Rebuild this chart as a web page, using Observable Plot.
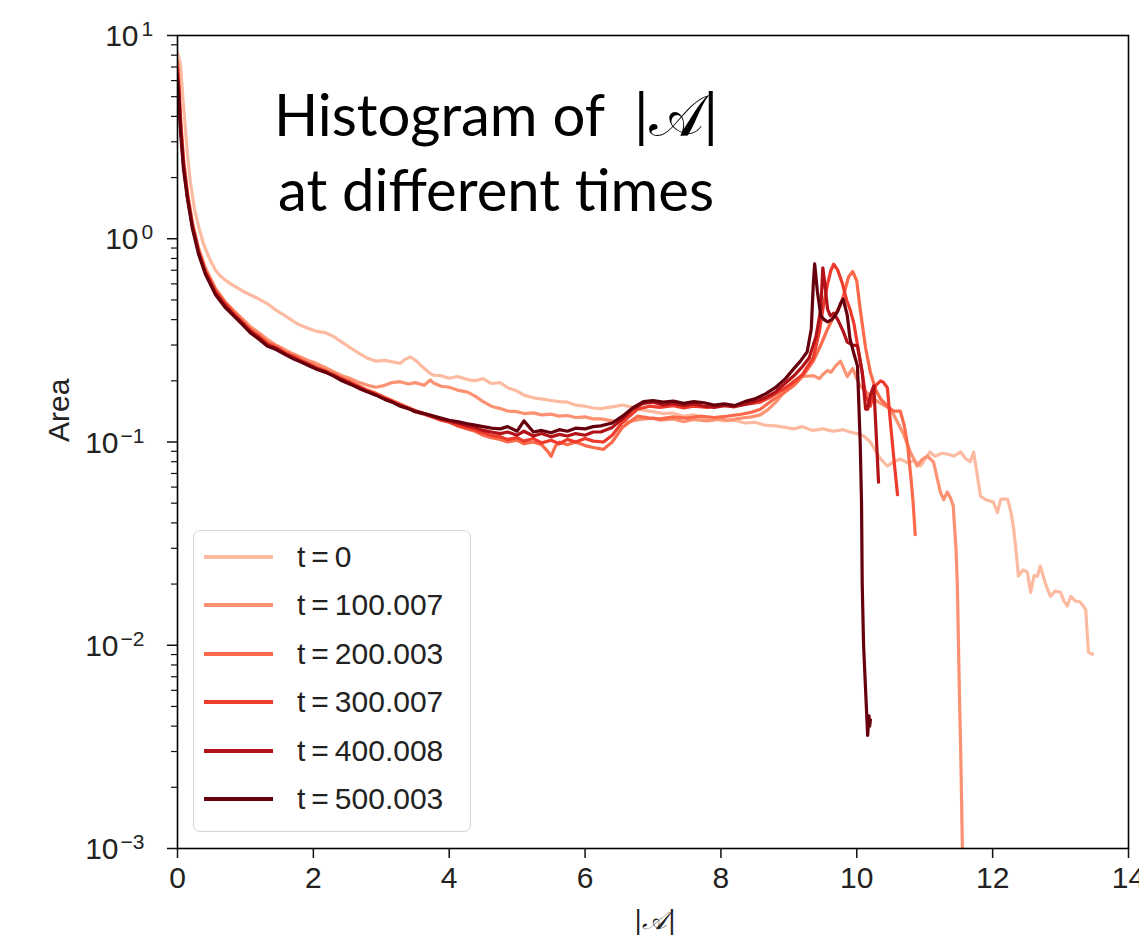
<!DOCTYPE html>
<html><head><meta charset="utf-8">
<script src="https://cdn.jsdelivr.net/npm/d3@7"></script>
<script src="https://cdn.jsdelivr.net/npm/@observablehq/plot@0.6"></script>
<style>
body{margin:0;background:#fff;}
#wrap{position:relative;width:1139px;height:942px;overflow:hidden;background:#fff;}
#legend{position:absolute;left:193px;top:530px;width:278px;height:302px;border:1.5px solid #d4d4d4;border-radius:7px;background:rgba(255,255,255,0.85);box-sizing:border-box;}
.row{position:absolute;left:0;height:0;}
.swatch{position:absolute;left:10px;width:69px;height:4px;top:-2px;}
.lab{position:absolute;left:103px;top:-19px;font:30px "Liberation Sans",Arial,sans-serif;color:#222;white-space:nowrap;line-height:38px;}
</style></head><body><div id="wrap"></div>
<script>
// ---- data ----
const seriesLabels = ["t = 0", "t = 100.007", "t = 200.003", "t = 300.007", "t = 400.008", "t = 500.003"];
const seriesColors = ["#fcbba1", "#fc9272", "#fb6a4a", "#ef3b2c", "#b31218", "#67000d"];

const t0 = [[0,8.2],[0.015,7.9],[0.044,7.2],[0.088,4.5],[0.147,2.6],[0.19,1.9],[0.25,1.4],[0.31,1.15],[0.38,0.95],[0.47,0.8],[0.56,0.7],[0.63,0.655],[0.72,0.62],[0.82,0.59],[0.95,0.555],[1.07,0.53],[1.2,0.505],[1.32,0.48],[1.45,0.445],[1.55,0.425],[1.62,0.41],[1.72,0.39],[1.81,0.375],[1.95,0.36],[2.05,0.35],[2.18,0.345],[2.3,0.33],[2.42,0.31],[2.55,0.29],[2.68,0.272],[2.8,0.258],[2.92,0.25],[3.05,0.252],[3.16,0.248],[3.28,0.244],[3.35,0.255],[3.43,0.262],[3.52,0.25],[3.6,0.235],[3.7,0.22],[3.77,0.213],[3.88,0.212],[4.0,0.206],[4.12,0.21],[4.27,0.203],[4.38,0.2],[4.5,0.205],[4.62,0.194],[4.75,0.196],[4.86,0.185],[5.0,0.178],[5.1,0.17],[5.24,0.165],[5.36,0.163],[5.5,0.16],[5.62,0.158],[5.74,0.157],[5.86,0.152],[6.0,0.15],[6.12,0.147],[6.23,0.146],[6.4,0.149],[6.55,0.152],[6.7,0.148],[6.86,0.143],[7.0,0.141],[7.15,0.138],[7.3,0.139],[7.45,0.134],[7.6,0.136],[7.75,0.131],[7.9,0.13],[8.05,0.127],[8.2,0.128],[8.35,0.124],[8.5,0.125],[8.65,0.121],[8.8,0.12],[8.95,0.118],[9.07,0.116],[9.2,0.119],[9.35,0.114],[9.5,0.116],[9.65,0.113],[9.8,0.115],[9.9,0.112],[10.0,0.11],[10.1,0.107],[10.2,0.1],[10.28,0.09],[10.35,0.0825],[10.45,0.0762],[10.55,0.08],[10.64,0.0825],[10.75,0.079],[10.85,0.081],[10.94,0.0762],[11.0,0.082],[11.08,0.0893],[11.15,0.085],[11.25,0.088],[11.33,0.0873],[11.43,0.0853],[11.53,0.0893],[11.6,0.083],[11.67,0.08],[11.72,0.0893],[11.77,0.07],[11.82,0.0542],[11.9,0.052],[12.01,0.0506],[12.07,0.045],[12.12,0.0524],[12.22,0.0524],[12.27,0.045],[12.31,0.0373],[12.35,0.028],[12.38,0.0219],[12.45,0.0235],[12.51,0.0229],[12.56,0.0182],[12.61,0.022],[12.66,0.0219],[12.7,0.0245],[12.78,0.02],[12.85,0.0174],[12.92,0.0185],[13.0,0.0182],[13.05,0.0165],[13.1,0.0156],[13.15,0.0174],[13.22,0.0165],[13.29,0.0163],[13.37,0.015],[13.41,0.00924],[13.47,0.00903]];

const t100 = [[0,7.5],[0.015,6.3],[0.044,4.0],[0.088,2.5],[0.147,1.7],[0.22,1.2],[0.31,0.9],[0.41,0.72],[0.56,0.57],[0.7,0.49],[0.82,0.445],[0.95,0.405],[1.07,0.37],[1.2,0.345],[1.32,0.32],[1.45,0.3],[1.6,0.282],[1.72,0.27],[1.81,0.262],[1.95,0.25],[2.05,0.243],[2.18,0.232],[2.3,0.222],[2.42,0.212],[2.55,0.205],[2.68,0.196],[2.8,0.19],[2.92,0.186],[3.05,0.19],[3.16,0.196],[3.28,0.198],[3.4,0.193],[3.5,0.196],[3.63,0.19],[3.72,0.202],[3.77,0.195],[3.88,0.188],[4.0,0.186],[4.12,0.18],[4.27,0.176],[4.38,0.168],[4.5,0.158],[4.62,0.15],[4.75,0.146],[4.86,0.142],[5.0,0.141],[5.1,0.138],[5.24,0.139],[5.36,0.136],[5.5,0.137],[5.62,0.134],[5.74,0.135],[5.86,0.132],[6.0,0.133],[6.12,0.13],[6.23,0.13],[6.4,0.127],[6.62,0.125],[6.8,0.129],[7.0,0.131],[7.11,0.128],[7.3,0.13],[7.45,0.126],[7.6,0.129],[7.8,0.127],[8.0,0.13],[8.1,0.128],[8.3,0.131],[8.45,0.133],[8.58,0.136],[8.7,0.145],[8.83,0.16],[8.95,0.18],[9.07,0.2],[9.2,0.21],[9.36,0.212],[9.45,0.205],[9.5,0.215],[9.57,0.225],[9.62,0.22],[9.68,0.235],[9.76,0.25],[9.82,0.225],[9.86,0.21],[9.94,0.23],[10.0,0.205],[10.05,0.189],[10.15,0.175],[10.25,0.163],[10.35,0.155],[10.5,0.145],[10.6,0.125],[10.69,0.109],[10.79,0.089],[10.89,0.0762],[10.96,0.082],[11.04,0.0853],[11.13,0.0797],[11.19,0.065],[11.23,0.0567],[11.28,0.052],[11.33,0.0567],[11.38,0.053],[11.42,0.0484],[11.46,0.03],[11.48,0.02],[11.51,0.006],[11.53,0.003],[11.56,0.0008]];

const t200 = [[0,7.3],[0.015,6.0],[0.044,3.8],[0.088,2.4],[0.147,1.65],[0.22,1.18],[0.31,0.88],[0.41,0.7],[0.56,0.56],[0.7,0.485],[0.82,0.44],[0.95,0.395],[1.07,0.36],[1.2,0.335],[1.32,0.31],[1.45,0.295],[1.6,0.276],[1.72,0.265],[1.81,0.255],[1.95,0.243],[2.05,0.234],[2.18,0.225],[2.3,0.216],[2.42,0.206],[2.55,0.198],[2.68,0.188],[2.8,0.18],[2.92,0.174],[3.05,0.166],[3.16,0.16],[3.28,0.154],[3.4,0.148],[3.5,0.143],[3.63,0.138],[3.77,0.134],[3.88,0.13],[4.0,0.126],[4.12,0.12],[4.27,0.116],[4.38,0.113],[4.5,0.108],[4.62,0.105],[4.75,0.103],[4.86,0.1],[5.0,0.102],[5.1,0.098],[5.24,0.1],[5.36,0.097],[5.45,0.09],[5.5,0.085],[5.56,0.095],[5.62,0.1],[5.74,0.097],[5.86,0.1],[6.0,0.096],[6.12,0.094],[6.27,0.092],[6.4,0.1],[6.55,0.118],[6.77,0.134],[6.95,0.131],[7.11,0.13],[7.3,0.133],[7.5,0.131],[7.7,0.134],[7.9,0.132],[8.1,0.134],[8.3,0.137],[8.45,0.14],[8.58,0.145],[8.75,0.16],[8.9,0.172],[9.07,0.189],[9.2,0.21],[9.36,0.25],[9.47,0.3],[9.57,0.36],[9.67,0.42],[9.76,0.47],[9.82,0.55],[9.88,0.65],[9.94,0.69],[10.0,0.62],[10.05,0.45],[10.13,0.29],[10.2,0.22],[10.28,0.18],[10.35,0.163],[10.45,0.15],[10.54,0.142],[10.64,0.142],[10.7,0.12],[10.75,0.0956],[10.8,0.065],[10.83,0.05],[10.86,0.035]];

const t300 = [[0,7.0],[0.015,5.8],[0.044,3.7],[0.088,2.35],[0.147,1.62],[0.22,1.16],[0.31,0.87],[0.41,0.69],[0.56,0.55],[0.7,0.48],[0.82,0.43],[0.95,0.39],[1.07,0.355],[1.2,0.33],[1.32,0.305],[1.45,0.29],[1.6,0.272],[1.72,0.262],[1.81,0.252],[1.95,0.24],[2.05,0.231],[2.18,0.222],[2.3,0.213],[2.42,0.204],[2.55,0.195],[2.68,0.186],[2.8,0.178],[2.92,0.172],[3.05,0.164],[3.16,0.158],[3.28,0.152],[3.4,0.146],[3.5,0.141],[3.63,0.137],[3.77,0.132],[3.88,0.128],[4.0,0.125],[4.12,0.121],[4.27,0.117],[4.38,0.115],[4.5,0.111],[4.62,0.108],[4.75,0.106],[4.86,0.103],[5.0,0.105],[5.1,0.101],[5.24,0.104],[5.36,0.099],[5.5,0.102],[5.62,0.098],[5.74,0.103],[5.86,0.1],[6.0,0.104],[6.12,0.101],[6.27,0.1],[6.4,0.108],[6.55,0.125],[6.77,0.145],[6.95,0.15],[7.1,0.148],[7.3,0.151],[7.45,0.147],[7.6,0.15],[7.8,0.148],[8.0,0.152],[8.2,0.151],[8.4,0.154],[8.58,0.157],[8.75,0.168],[8.9,0.18],[9.07,0.197],[9.2,0.215],[9.36,0.26],[9.45,0.35],[9.5,0.45],[9.57,0.6],[9.62,0.7],[9.66,0.75],[9.72,0.7],[9.79,0.6],[9.85,0.5],[9.9,0.45],[9.96,0.38],[10.01,0.3],[10.08,0.22],[10.13,0.17],[10.2,0.15],[10.28,0.19],[10.35,0.2],[10.39,0.197],[10.45,0.185],[10.5,0.12],[10.55,0.08],[10.6,0.055]];

const t400 = [[0,6.5],[0.015,5.6],[0.044,3.6],[0.088,2.3],[0.147,1.6],[0.22,1.15],[0.31,0.86],[0.41,0.68],[0.56,0.54],[0.7,0.47],[0.82,0.425],[0.95,0.385],[1.07,0.35],[1.2,0.325],[1.32,0.3],[1.45,0.29],[1.6,0.27],[1.72,0.258],[1.81,0.25],[1.95,0.238],[2.05,0.229],[2.18,0.222],[2.3,0.212],[2.42,0.203],[2.55,0.193],[2.68,0.185],[2.8,0.177],[2.92,0.171],[3.05,0.163],[3.16,0.158],[3.28,0.151],[3.4,0.146],[3.5,0.142],[3.63,0.138],[3.77,0.133],[3.88,0.13],[4.0,0.127],[4.12,0.124],[4.27,0.12],[4.38,0.118],[4.5,0.114],[4.62,0.112],[4.75,0.11],[4.86,0.112],[5.0,0.108],[5.1,0.113],[5.24,0.107],[5.36,0.11],[5.5,0.106],[5.62,0.109],[5.74,0.107],[5.86,0.11],[6.0,0.108],[6.12,0.112],[6.23,0.112],[6.4,0.118],[6.55,0.13],[6.7,0.145],[6.86,0.155],[7.0,0.157],[7.15,0.152],[7.3,0.155],[7.45,0.151],[7.6,0.154],[7.75,0.15],[7.9,0.148],[8.05,0.151],[8.2,0.149],[8.35,0.153],[8.5,0.158],[8.65,0.165],[8.8,0.176],[8.95,0.195],[9.07,0.211],[9.2,0.235],[9.3,0.26],[9.4,0.33],[9.47,0.45],[9.5,0.72],[9.53,0.6],[9.57,0.45],[9.61,0.418],[9.66,0.43],[9.72,0.4],[9.8,0.35],[9.86,0.31],[9.94,0.3],[10.01,0.297],[10.08,0.22],[10.13,0.145],[10.16,0.145],[10.2,0.17],[10.25,0.189],[10.28,0.12],[10.32,0.0635]];

const t500 = [[0,6.0],[0.015,5.4],[0.044,3.4],[0.088,2.2],[0.147,1.57],[0.22,1.12],[0.31,0.84],[0.41,0.67],[0.56,0.53],[0.7,0.46],[0.82,0.42],[0.95,0.38],[1.07,0.345],[1.2,0.32],[1.32,0.297],[1.45,0.285],[1.6,0.268],[1.72,0.255],[1.81,0.248],[1.95,0.236],[2.05,0.228],[2.18,0.22],[2.3,0.211],[2.42,0.2],[2.55,0.192],[2.68,0.183],[2.8,0.176],[2.92,0.17],[3.05,0.162],[3.16,0.157],[3.28,0.15],[3.4,0.146],[3.5,0.141],[3.63,0.138],[3.77,0.134],[3.88,0.131],[4.0,0.128],[4.12,0.126],[4.27,0.123],[4.38,0.121],[4.5,0.119],[4.62,0.117],[4.75,0.116],[4.86,0.119],[5.0,0.113],[5.1,0.127],[5.24,0.112],[5.36,0.114],[5.5,0.111],[5.62,0.115],[5.74,0.113],[5.86,0.117],[6.0,0.116],[6.12,0.119],[6.23,0.12],[6.4,0.124],[6.55,0.134],[6.7,0.147],[6.86,0.158],[7.0,0.16],[7.15,0.157],[7.3,0.159],[7.45,0.155],[7.6,0.158],[7.75,0.156],[7.9,0.152],[8.05,0.154],[8.2,0.151],[8.35,0.158],[8.5,0.163],[8.65,0.172],[8.8,0.185],[8.95,0.205],[9.07,0.229],[9.17,0.25],[9.27,0.278],[9.33,0.36],[9.36,0.6],[9.38,0.753],[9.42,0.55],[9.47,0.418],[9.52,0.4],[9.57,0.39],[9.63,0.4],[9.68,0.418],[9.72,0.44],[9.76,0.48],[9.8,0.506],[9.86,0.42],[9.9,0.322],[9.96,0.27],[10.01,0.237],[10.05,0.1],[10.07,0.05],[10.08,0.02],[10.1,0.01],[10.13,0.006],[10.16,0.0036],[10.18,0.0045],[10.19,0.004],[10.2,0.0043]];

const seriesData = [t0, t100, t200, t300, t400, t500];

const xTicks = [0, 2, 4, 6, 8, 10, 12, 14];
const yTicks = [0.001, 0.01, 0.1, 1, 10];
const yExponents = ["\u22123", "\u22122", "\u22121", "0", "1"];
const yMinor = [2,3,4,5,6,7,8,9].flatMap(m => [0.001, 0.01, 0.1, 1].map(p => m * p));

const titleLine1 = "Histogram of\u2002|\uD835\uDC9C|";
const titleLine2 = "at different times";
const xLabel = "|\uD835\uDC9C|";
const yLabel = "Area";

// ---- build ----
const rows = seriesData.flatMap((s, i) => s.map(([x, y]) => ({x, y, t: seriesLabels[i]})));
const tickRows = yTicks.map((v, i) => ({v, e: yExponents[i], neg: yExponents[i].startsWith("\u2212")}));

const sans = "'Liberation Sans', Arial, sans-serif";
const titleFont = "Lato, 'DejaVu Sans', sans-serif";
const chart = Plot.plot({
  width: 1139, height: 942,
  marginLeft: 177, marginRight: 11, marginTop: 35, marginBottom: 94,
  x: {domain: [0, 14]},
  y: {type: "log", domain: [0.001, 10]},
  color: {domain: seriesLabels, range: seriesColors},
  style: {fontFamily: sans, fontSize: "30px", color: "#222", background: "#fff", overflow: "visible"},
  marks: [
    Plot.line(rows, {x: "x", y: "y", z: "t", stroke: "t", strokeWidth: 3.2, clip: true, strokeLinejoin: "round"}),
    Plot.frame({stroke: "#000", strokeWidth: 1.6}),
    Plot.axisX({ticks: xTicks, tickSize: 10, tickPadding: 8, fontSize: 30, label: null, strokeWidth: 1.5, stroke: "#111"}),
    Plot.axisY({ticks: yTicks, tickSize: 10, tickFormat: () => "", label: null, strokeWidth: 1.5, stroke: "#111"}),
    Plot.axisY({ticks: yMinor, tickSize: 6, tickFormat: () => "", label: null, strokeWidth: 1.2, stroke: "#111"}),
    Plot.text(tickRows.filter(d => d.neg), {y: "v", text: () => "10", frameAnchor: "left", dx: -59, dy: 1, textAnchor: "end", fontSize: 30}),
    Plot.text(tickRows.filter(d => !d.neg), {y: "v", text: () => "10", frameAnchor: "left", dx: -39, dy: 1, textAnchor: "end", fontSize: 30}),
    Plot.text(tickRows.filter(d => d.neg), {y: "v", text: "e", frameAnchor: "left", dx: -57, dy: -6, textAnchor: "start", fontSize: 21}),
    Plot.text(tickRows.filter(d => !d.neg), {y: "v", text: "e", frameAnchor: "left", dx: -36, dy: -6, textAnchor: "start", fontSize: 21}),
    Plot.text([yLabel], {frameAnchor: "left", dx: -118, rotate: -90, fontSize: 30}),
    Plot.text([xLabel], {frameAnchor: "bottom", dx: 2, dy: 80, fontSize: 26, fontStyle: "italic", fontFamily: "'DejaVu Serif', serif"}),
    Plot.text([titleLine1], {frameAnchor: "top", dx: -157, dy: 59, fontSize: 58, fontFamily: titleFont, fill: "#000"}),
    Plot.text([titleLine2], {frameAnchor: "top", dx: -157, dy: 134, fontSize: 58, fontFamily: titleFont, fill: "#000"})
  ]
});

const wrap = document.getElementById("wrap");
wrap.appendChild(chart);

// legend overlay built from the chart's color scale
const colorScale = chart.scale("color");
const legend = document.createElement("div");
legend.id = "legend";
seriesLabels.forEach((lab, i) => {
  const row = document.createElement("div");
  row.className = "row";
  row.style.top = Math.round(26 + i * 48.4) + "px";
  const sw = document.createElement("div");
  sw.className = "swatch";
  sw.style.background = colorScale.apply(lab);
  const tx = document.createElement("div");
  tx.className = "lab";
  tx.textContent = lab.replace(/ = /, "\u2009=\u2009");
  row.appendChild(sw); row.appendChild(tx);
  legend.appendChild(row);
});
wrap.appendChild(legend);
</script></body></html>
